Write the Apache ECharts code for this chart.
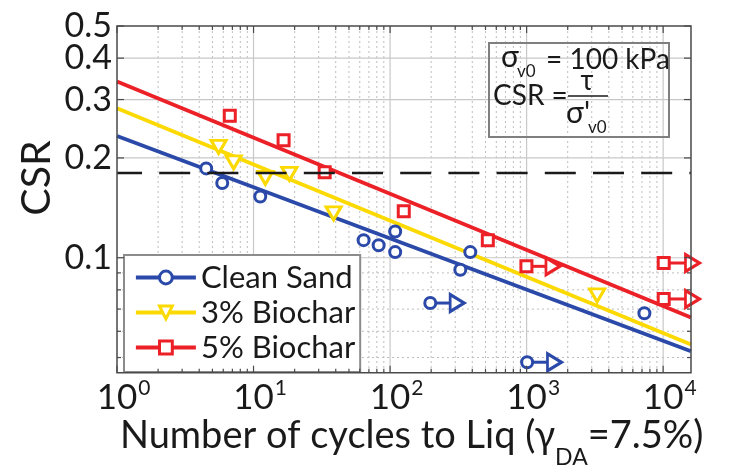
<!DOCTYPE html>
<html>
<head>
<meta charset="utf-8">
<script src="https://cdn.jsdelivr.net/npm/echarts@6/dist/echarts.min.js"></script>
<style>
  html, body { margin: 0; padding: 0; background: #fff; }
  #chart { width: 731px; height: 469px; }
</style>
</head>
<body>
<div id="chart"></div>
<script>
// Cyclic resistance curves: CSR against number of cycles to liquefaction

// Axis ranges and tick labels
const xRange = [1, 16000];
const yRange = [0.045, 0.5];
const xTicks = [1, 10, 100, 1000, 10000];
const xTickExponents = ['0', '1', '2', '3', '4'];
const yTicks = [0.1, 0.2, 0.3, 0.4, 0.5];
const yTickLabels = ['0.1', '0.2', '0.3', '0.4', '0.5'];
const yMinorTicks = [0.05, 0.06, 0.07, 0.08, 0.09];

const seriesNames = ['Clean Sand', '3% Biochar', '5% Biochar'];

// Tests that liquefied: cycles and CSR
const cleanSandN   = [4.5, 5.9, 11.2, 64, 82.5, 109, 109, 327, 387, 7290];
const cleanSandCSR = [0.186, 0.168, 0.153, 0.113, 0.109, 0.120, 0.104, 0.092, 0.104, 0.068];
const biochar3N    = [5.55, 7.15, 12.2, 18.3, 38.6, 3285];
const biochar3CSR  = [0.216, 0.194, 0.174, 0.179, 0.136, 0.077];
const biochar5N    = [6.7, 16.6, 33.2, 126, 520];
const biochar5CSR  = [0.268, 0.226, 0.181, 0.138, 0.113];

// Run-out tests (no liquefaction): start point and arrow tip
const cleanSandRunN    = [197, 1009];
const cleanSandRunTipN = [310, 1600];
const cleanSandRunCSR  = [0.073, 0.0484];
const biochar5RunN     = [997, 10100, 10100];
const biochar5RunTipN  = [1560, 16400, 16400];
const biochar5RunCSR   = [0.0942, 0.0964, 0.0751];

// Power-law trend lines, values at the two ends of the cycle range
const fitN         = [1, 16000];
const cleanSandFit = [0.233, 0.0522];
const biochar3Fit  = [0.2825, 0.0547];
const biochar5Fit  = [0.340, 0.066];

// Reference stress ratio (dashed)
const referenceCSR = 0.18;

const FONT = 'Lato';
const INK = '#1a1a1a';
const BLUE = '#2b49a8';
const YELLOW = '#fcd900';
const RED = '#ec2027';

const ARROW = 'path://M0,0L9,5L0,10Z';
const MARK_W = 3;

function markerStyle(color) {
  return { color: '#fff', borderColor: color, borderWidth: MARK_W, opacity: 1 };
}

function fitSeries(name, vals, color, symbol, size, rotate) {
  return {
    name, type: 'line', silent: true,
    data: fitN.map((n, i) => [n, vals[i]]),
    symbol, symbolSize: size, symbolRotate: rotate || 0, showSymbol: false,
    lineStyle: { color, width: 3.8 },
    itemStyle: markerStyle(color),
    z: 2
  };
}

function pointSeries(id, ns, cs, color, symbol, size, rotate) {
  return {
    name: id, type: 'scatter', silent: true,
    data: ns.map((n, i) => [n, cs[i]]),
    symbol, symbolSize: size, symbolRotate: rotate || 0,
    itemStyle: markerStyle(color),
    z: 4
  };
}

function runoutSeries(id, n, tip, c, color, symbol, size) {
  return {
    name: id, type: 'line', silent: true, clip: false,
    data: [
      { value: [n, c], symbol, symbolSize: size },
      { value: [tip, c], symbol: ARROW, symbolSize: [14, 17] }
    ],
    showAllSymbol: true,
    lineStyle: { color, width: 3 },
    itemStyle: markerStyle(color),
    z: 4
  };
}

const CIRCLE_SIZE = 11, RECT_SIZE = 11, TRI_SIZE = [15, 13];

const series = [
  fitSeries(seriesNames[0], cleanSandFit, BLUE, 'circle', CIRCLE_SIZE),
  fitSeries(seriesNames[1], biochar3Fit, YELLOW, 'triangle', TRI_SIZE, 180),
  fitSeries(seriesNames[2], biochar5Fit, RED, 'rect', RECT_SIZE),
  {
    name: 'reference', type: 'line', silent: true,
    data: fitN.map(n => [n, referenceCSR]),
    symbol: 'none',
    lineStyle: { color: INK, width: 2.5, type: [31, 17.2], dashOffset: 6 },
    z: 5
  },
  pointSeries('Clean Sand tests', cleanSandN, cleanSandCSR, BLUE, 'circle', CIRCLE_SIZE),
  pointSeries('3% Biochar tests', biochar3N, biochar3CSR, YELLOW, 'triangle', TRI_SIZE, 180),
  pointSeries('5% Biochar tests', biochar5N, biochar5CSR, RED, 'rect', RECT_SIZE)
];
cleanSandRunN.forEach((n, i) => series.push(
  runoutSeries('Clean Sand run-out ' + i, n, cleanSandRunTipN[i], cleanSandRunCSR[i], BLUE, 'circle', CIRCLE_SIZE)));
biochar5RunN.forEach((n, i) => series.push(
  runoutSeries('5% Biochar run-out ' + i, n, biochar5RunTipN[i], biochar5RunCSR[i], RED, 'rect', RECT_SIZE)));

const hiddenAxis = {
  type: 'log', logBase: 10,
  axisLine: { show: false }, axisTick: { show: false },
  axisLabel: { show: false }, splitLine: { show: false }
};

const chart = echarts.init(document.getElementById('chart'));
chart.setOption({
  animation: false,
  grid: { left: 117, top: 26, width: 574, height: 346.7 },
  xAxis: Object.assign({}, hiddenAxis, { min: xRange[0], max: xRange[1] }),
  yAxis: Object.assign({}, hiddenAxis, { min: yRange[0], max: yRange[1] }),
  legend: {
    data: seriesNames,
    orient: 'vertical', left: 124, top: 255,
    itemWidth: 60, itemHeight: 16, itemGap: 4,
    padding: [7, 5, 9, 10],
    backgroundColor: '#fff', borderColor: '#8c8c8c', borderWidth: 2,
    selectedMode: false,
    textStyle: { fontFamily: FONT, fontSize: 31, color: INK },
    itemStyle: { borderWidth: 3 },
    lineStyle: { width: 3.8 }
  },
  series
});

// Frame, grid, ticks and labels placed through the axis scales
const px = v => chart.convertToPixel({ xAxisIndex: 0 }, v);
const py = v => chart.convertToPixel({ yAxisIndex: 0 }, v);
const L = px(xRange[0]), R = px(xRange[1]);
const T = py(yRange[1]), B = py(yRange[0]);

const ctx = document.createElement('canvas').getContext('2d');
function textWidth(str, size) {
  ctx.font = size + 'px ' + FONT;
  return ctx.measureText(str).width;
}
function seg(x1, y1, x2, y2, style, z) {
  return { type: 'line', silent: true, z: z || 0, shape: { x1, y1, x2, y2 }, style };
}
function label(str, x, y, size, align, z) {
  return {
    type: 'text', silent: true, z: z || 10,
    style: { text: str, x, y, fill: INK, fontFamily: FONT, fontSize: size,
             align: align || 'left', verticalAlign: 'middle' }
  };
}

const els = [];
const majorGrid = { stroke: '#c8c8c8', lineWidth: 1.2 };
const minorGrid = { stroke: '#bdbdbd', lineWidth: 1, lineDash: [2, 3] };
const tickStyle = { stroke: '#4a4a4a', lineWidth: 1.2 };

// vertical grid (decades solid, 2..9 dotted)
xTicks.forEach(v => {
  if (v > xRange[0] && v < xRange[1]) els.push(seg(px(v), T, px(v), B, majorGrid));
  for (let k = 2; k <= 9; k++) {
    const m = v * k;
    if (m >= xRange[1]) break;
    const x = px(m);
    els.push(seg(x, T, x, B, minorGrid));
    els.push(seg(x, B, x, B - 4, tickStyle, 9), seg(x, T, x, T + 4, tickStyle, 9));
  }
  const x = px(v);
  els.push(seg(x, B, x, B - 7, tickStyle, 9), seg(x, T, x, T + 7, tickStyle, 9));
});
// horizontal grid
yTicks.forEach(v => {
  const y = py(v);
  if (v > yRange[0] && v < yRange[1]) els.push(seg(L, y, R, y, majorGrid));
  els.push(seg(L, y, L + 7, y, tickStyle, 9), seg(R, y, R - 7, y, tickStyle, 9));
});
yMinorTicks.forEach(v => {
  const y = py(v);
  els.push(seg(L, y, R, y, minorGrid));
  els.push(seg(L, y, L + 4, y, tickStyle, 9), seg(R, y, R - 4, y, tickStyle, 9));
});
// plot frame
els.push({ type: 'rect', silent: true, z: 9, shape: { x: L, y: T, width: R - L, height: B - T },
           style: { fill: null, stroke: '#4a4a4a', lineWidth: 1.5 } });

// y tick labels
yTicks.forEach((v, i) => els.push(label(yTickLabels[i], L - 5, py(v), 34, 'right')));

// x tick labels: 10 with exponent
const XL_SIZE = 35, SUP_SIZE = 21, XL_Y = 398;
xTicks.forEach((v, i) => {
  const x = px(v);
  const w = textWidth('10', XL_SIZE);
  els.push(label('10', x, XL_Y, XL_SIZE, 'center'));
  els.push(label(xTickExponents[i], x + w / 2 + 1, XL_Y - 10, SUP_SIZE, 'left'));
});

// axis titles
els.push({
  type: 'text', silent: true, z: 10, x: 37, y: 178, rotation: Math.PI / 2,
  style: { text: 'CSR', x: 0, y: 0, fill: INK, fontFamily: FONT, fontSize: 41,
           align: 'center', verticalAlign: 'middle' }
});
(function () {
  const parts = [
    { t: 'Number of cycles to Liq (\u03b3', s: 38, dy: 0 },
    { t: 'DA', s: 23, dy: 22 },
    { t: '=7.5%)', s: 38, dy: 0 }
  ];
  let x = 120;
  parts.forEach(p => {
    els.push(label(p.t, x, 436 + p.dy, p.s, 'left'));
    x += textWidth(p.t, p.s);
  });
})();

// annotation box with loading conditions
els.push({ type: 'rect', silent: true, z: 9, shape: { x: 489, y: 43, width: 180, height: 94 },
           style: { fill: null, stroke: '#7f7f7f', lineWidth: 2 } });
els.push(label('\u03c3', 501, 57, 30, 'left'));
els.push(label('v0', 517, 72, 17, 'left'));
els.push(label('= 100 kPa', 546, 60, 28, 'left'));
els.push(label('CSR =', 493, 96, 28, 'left'));
els.push(seg(568, 96, 608, 96, { stroke: INK, lineWidth: 1.5 }, 10));
els.push(label('\u03c4', 587, 81, 28, 'center'));
els.push(label('\u03c3\'', 566, 113, 30, 'left'));
els.push(label('v0', 588, 128, 17, 'left'));

chart.setOption({ graphic: { elements: els } });
</script>
</body>
</html>
